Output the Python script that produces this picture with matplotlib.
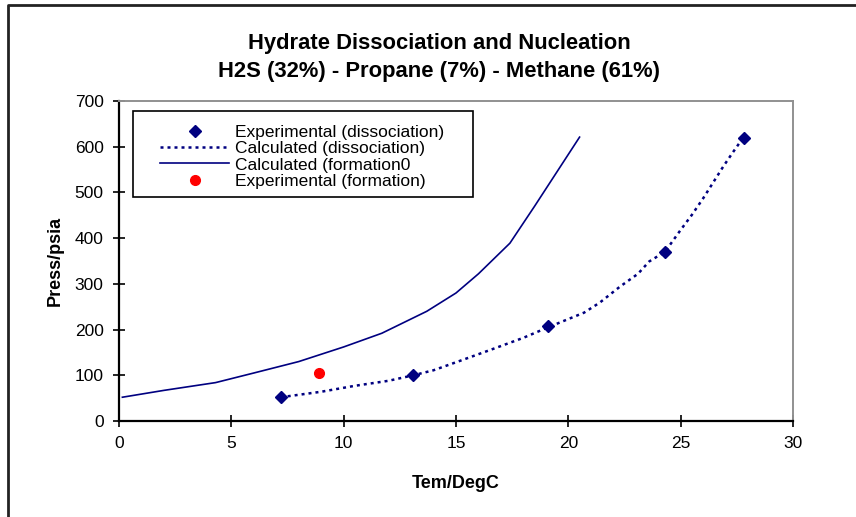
import matplotlib
matplotlib.use("Agg")
import matplotlib.pyplot as plt
from matplotlib.lines import Line2D
from matplotlib.patches import Rectangle

plt.rcParams['font.family'] = ['Liberation Sans', 'DejaVu Sans']

# Experimental dissociation points
exp_diss_t = [7.2, 13.1, 19.1, 24.3, 27.8]
exp_diss_p = [52, 100, 207, 370, 620]

# Calculated dissociation curve
calc_diss_t = [7.2, 9.0, 10.5, 12.0, 13.1, 14.0, 15.2, 16.5, 18.0, 19.1, 20.7,
               21.4, 22.3, 23.1, 23.6, 24.3, 25.0, 25.5, 26.0, 26.9, 27.3, 27.8]
calc_diss_p = [52, 64, 77, 88, 100, 111, 132, 155, 182, 205, 237,
               259, 294, 322, 349, 370, 418, 451, 487, 557, 586, 621]

# Calculated formation curve
calc_form_t = [0.15, 2.0, 4.3, 6.0, 8.0, 10.0, 11.7, 13.7, 15.0, 16.0, 17.4, 18.5, 20.5]
calc_form_p = [52, 67, 84, 105, 130, 162, 192, 240, 280, 322, 389, 470, 621]

# Experimental formation point
exp_form_t = [8.9]
exp_form_p = [105]

x_ticks = [0, 5, 10, 15, 20, 25, 30]
y_ticks = [0, 100, 200, 300, 400, 500, 600, 700]

W, H = 856, 517
fig = plt.figure(figsize=(W / 100, H / 100), dpi=100)
ax = fig.add_axes([119 / W, 1 - 421 / H, (793 - 119) / W, (421 - 101) / H])

navy = '#000080'
ax.plot(exp_diss_t, exp_diss_p, linestyle='none', marker='D', markersize=6.5,
        color=navy, label='Experimental (dissociation)', zorder=4)
ax.plot(calc_diss_t, calc_diss_p, linestyle=(0, (1.2, 1.6)), linewidth=1.8,
        color=navy, label='Calculated (dissociation)', zorder=3)
ax.plot(calc_form_t, calc_form_p, linestyle='-', linewidth=1.2,
        color=navy, label='Calculated (formation0', zorder=3)
ax.plot(exp_form_t, exp_form_p, linestyle='none', marker='o', markersize=7,
        color='#FF0000', label='Experimental (formation)', zorder=4)

ax.set_xlim(0, 30)
ax.set_ylim(0, 700)
ax.set_xticks(x_ticks)
ax.set_yticks(y_ticks)
ax.tick_params(direction='inout', length=8, width=1.2, labelsize=12.5,
               colors='black')
ax.tick_params(axis='y', pad=7)
ax.tick_params(axis='x', pad=7)

for side in ('left', 'bottom'):
    ax.spines[side].set_color('black')
    ax.spines[side].set_linewidth(1.6)
for side in ('top', 'right'):
    ax.spines[side].set_color('#909090')
    ax.spines[side].set_linewidth(1.4)

ax.set_xlabel('Tem/DegC', fontsize=13, fontweight='bold', labelpad=17)
ax.set_ylabel('Press/psia', fontsize=13, fontweight='bold', labelpad=8)

cx = 439 / W
fig.text(cx, 1 - 43 / H, 'Hydrate Dissociation and Nucleation',
         ha='center', va='center', fontsize=15.8, fontweight='bold')
fig.text(cx, 1 - 71 / H, 'H2S (32%) - Propane (7%) - Methane (61%)',
         ha='center', va='center', fontsize=15.8, fontweight='bold')

# Legend entries, with a separate box drawn around them
leg = ax.legend(loc='upper left', bbox_to_anchor=(160 / W, 1 - 125 / H),
                bbox_transform=fig.transFigure, fontsize=12.5, frameon=False,
                borderpad=0, labelspacing=0.06, handlelength=4.0,
                handletextpad=0.3, borderaxespad=0)
fig.add_artist(Rectangle((133 / W, 1 - 197 / H), (473 - 133) / W, (197 - 111) / H,
                         transform=fig.transFigure, facecolor='none',
                         edgecolor='black', linewidth=1.2, zorder=5))

# Chart frame (top and left edges)
x0, y0 = 8 / W, 1 - 5 / H
fig.add_artist(Line2D([x0, x0, 1.0], [0.0, y0, y0], transform=fig.transFigure,
                      color='#222222', linewidth=2))

fig.savefig('out.png', dpi=100)
